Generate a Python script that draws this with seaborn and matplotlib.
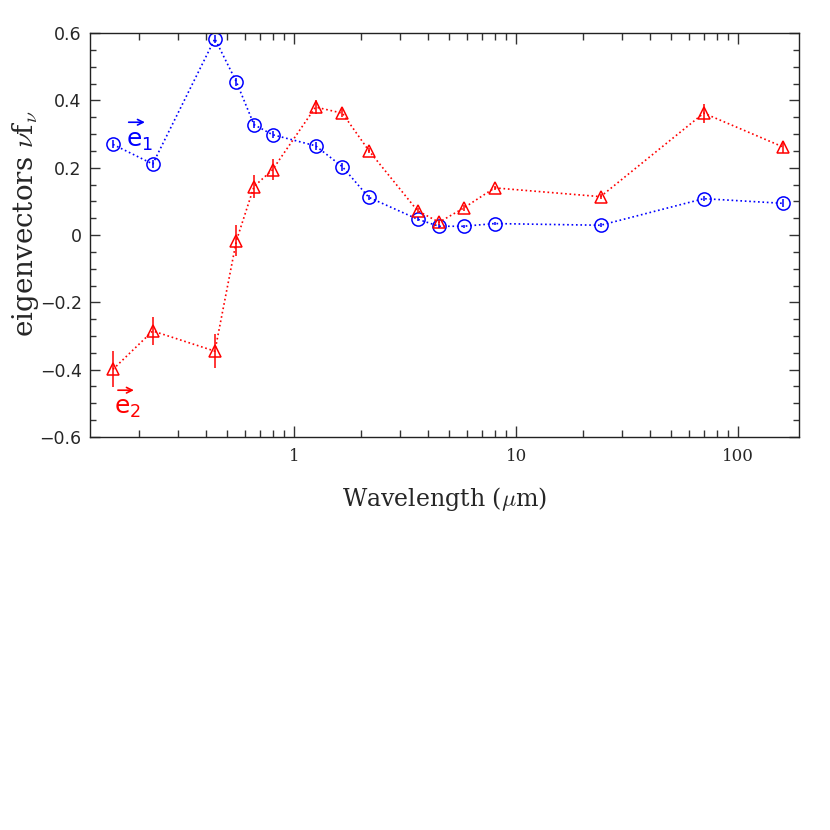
import numpy as np
import pandas as pd
import matplotlib
matplotlib.use("Agg")
import matplotlib.pyplot as plt
import seaborn as sns
from matplotlib.ticker import FixedLocator, MultipleLocator, LogLocator, NullFormatter, FixedFormatter

# ---- data ----
wavelength = [0.153, 0.231, 0.44, 0.55, 0.66, 0.80, 1.25, 1.65, 2.17,
              3.6, 4.5, 5.8, 8.0, 24.0, 70.0, 160.0]
e1 = [0.269, 0.211, 0.583, 0.455, 0.328, 0.298, 0.265, 0.203, 0.112,
      0.047, 0.026, 0.026, 0.034, 0.029, 0.108, 0.094]
e1_err = [0.012, 0.012, 0.012, 0.012, 0.010, 0.010, 0.012, 0.012, 0.008,
          0.006, 0.006, 0.005, 0.005, 0.006, 0.008, 0.012]
e2 = [-0.399, -0.285, -0.345, -0.017, 0.144, 0.194, 0.380, 0.362, 0.251,
      0.072, 0.038, 0.080, 0.140, 0.114, 0.362, 0.261]
e2_err = [0.053, 0.042, 0.050, 0.046, 0.035, 0.032, 0.021, 0.012, 0.008,
          0.008, 0.008, 0.008, 0.007, 0.008, 0.028, 0.017]
x_ticks = [1, 10, 100]
x_ticklabels = ["1", "10", "100"]
y_ticks = [-0.6, -0.4, -0.2, 0, 0.2, 0.4, 0.6]
y_ticklabels = ["\u22120.6", "\u22120.4", "\u22120.2", "0", "0.2", "0.4", "0.6"]

df1 = pd.DataFrame({"wavelength": wavelength, "value": e1, "err": e1_err})
df2 = pd.DataFrame({"wavelength": wavelength, "value": e2, "err": e2_err})

sns.set_theme(style="ticks")
plt.rcParams["mathtext.fontset"] = "cm"

fig = plt.figure(figsize=(8.3, 8.3), dpi=100)
ax = fig.add_axes([0.1084, 0.4735, 0.8543, 0.4867])

blue = "#0000ff"
red = "#ff0000"

sns.lineplot(data=df1, x="wavelength", y="value", ax=ax, color=blue,
             linestyle=":", linewidth=1.2, marker="o", markersize=9.5,
             markerfacecolor="none", markeredgecolor=blue, markeredgewidth=1.1)
sns.lineplot(data=df2, x="wavelength", y="value", ax=ax, color=red,
             linestyle=":", linewidth=1.2, marker="^", markersize=8.5,
             markerfacecolor="none", markeredgecolor=red, markeredgewidth=1.1)
ax.errorbar(df1["wavelength"], df1["value"], yerr=df1["err"], fmt="none",
            ecolor=blue, elinewidth=1.1, capsize=0)
ax.errorbar(df2["wavelength"], df2["value"], yerr=df2["err"], fmt="none",
            ecolor=red, elinewidth=1.1, capsize=0)

ax.set_xscale("log")
ax.set_xlim(0.1205, 188)
ax.set_ylim(-0.6, 0.6)

ax.xaxis.set_major_locator(FixedLocator(x_ticks))
ax.xaxis.set_major_formatter(FixedFormatter(x_ticklabels))
ax.xaxis.set_minor_locator(LogLocator(base=10, subs=np.arange(2, 10)))
ax.xaxis.set_minor_formatter(NullFormatter())
ax.yaxis.set_major_locator(FixedLocator(y_ticks))
ax.yaxis.set_major_formatter(FixedFormatter(y_ticklabels))
ax.yaxis.set_minor_locator(MultipleLocator(0.05))

ax.tick_params(which="both", direction="in", top=True, right=True,
               color="#333333", width=1.0)
ax.tick_params(axis="x", which="major", length=8, pad=8)
ax.tick_params(axis="x", which="minor", length=5)
ax.tick_params(axis="y", which="major", length=7, pad=6)
ax.tick_params(axis="y", which="minor", length=4)
for lab in ax.get_xticklabels():
    lab.set_family("DejaVu Serif")
    lab.set_fontsize(12)
for lab in ax.get_yticklabels():
    lab.set_family("DejaVu Sans")
    lab.set_fontsize(12.5)
for s in ax.spines.values():
    s.set_linewidth(1.0)
    s.set_color("#222222")

ax.set_xlabel("Wavelength ($\\mu$m)", fontsize=17, family="DejaVu Serif",
              labelpad=14)
ax.set_ylabel("eigenvectors $\\nu$f$_\\nu$", fontsize=20, family="DejaVu Serif")
ax.yaxis.set_label_coords(-0.069, 0.527)

# vector labels: e with subscript, arrow drawn above
def vec_label(xe, ye, xa0, xa1, ya, text, color):
    ax.text(xe, ye, text, color=color, fontsize=18,
            ha="center", va="center")
    ax.annotate("", xy=(xa1, ya), xytext=(xa0, ya),
                arrowprops=dict(arrowstyle="->", color=color, lw=1.2,
                                shrinkA=0, shrinkB=0, mutation_scale=10))

vec_label(0.202, 0.278, 0.180, 0.213, 0.335, "$\\mathregular{e_1}$", blue)
vec_label(0.178, -0.515, 0.161, 0.190, -0.461, "$\\mathregular{e_2}$", red)

fig.savefig("out.png", dpi=100)
